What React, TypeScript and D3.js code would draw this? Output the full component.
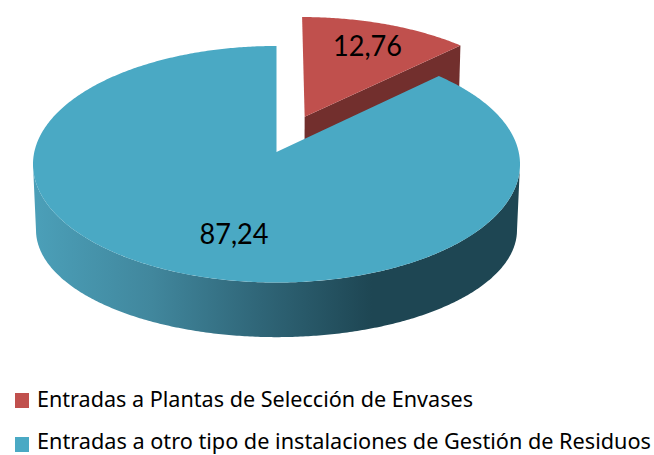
import React from "react";
import * as D3 from "d3";

const categories = ["Entradas a Plantas de Selección de Envases", "Entradas a otro tipo de instalaciones de Gestión de Residuos"];
const values = [12.76, 87.24];
const valueLabels = ["12,76", "87,24"];
const topColors = ["#c0504d", "#4aa9c4"];

const W = 654, H = 455;
// perspective projection of the unit disc: top face and lower rim
const x0 = 276.5, K = 0.1036;
function projectTop(u: number, v: number): [number, number] {
  const w = 1 + K * v;
  return [x0 + (242.2 * u) / w, 152 - (117 * v) / w];
}
function projectBottom(u: number, v: number): [number, number] {
  const w = 1 + K * v;
  return [x0 + (239.2 * u) / w, 219 - (105.9 * v) / w];
}
const pieGen = D3.pie<number>().sort(null);
const arcs = pieGen(values);
const line = D3.line();

function rimPoints(p: typeof projectTop, a0: number, a1: number, du = 0, dv = 0) {
  const n = Math.max(2, Math.ceil(Math.abs(a1 - a0) / 0.01));
  return D3.range(n + 1).map((i) => {
    const a = a0 + ((a1 - a0) * i) / n;
    return p(du + Math.sin(a), dv + Math.cos(a));
  });
}

const redOff: [number, number] = [0.12, 0.31];
const redArc = arcs[0];
const blueArc = arcs[1];

const redTop = line([projectTop(redOff[0], redOff[1]), ...rimPoints(projectTop, redArc.startAngle, redArc.endAngle, ...redOff)])! + "Z";
const cornerU = redOff[0] + Math.sin(redArc.endAngle);
const cornerV = redOff[1] + Math.cos(redArc.endAngle);
const redWall = line([
  projectTop(redOff[0], redOff[1]),
  projectTop(cornerU, cornerV),
  projectBottom(cornerU, cornerV),
  projectBottom(redOff[0], redOff[1]),
])! + "Z";
const blueTop = line([projectTop(0, 0), ...rimPoints(projectTop, blueArc.startAngle, blueArc.endAngle)])! + "Z";
const wallA0 = (96 * Math.PI) / 180, wallA1 = (264 * Math.PI) / 180;
const blueWall = line([...rimPoints(projectTop, wallA0, wallA1), ...rimPoints(projectBottom, wallA1, wallA0)])! + "Z";

const gradStops: [number, string][] = [
  [0, "#4b9fb8"], [0.24, "#41879d"], [0.47, "#2f6577"], [0.7, "#1e4653"], [1, "#1e4653"],
];
const NUM_FONT = "Lato, sans-serif";
const LEG_FONT = "'Noto Sans', sans-serif";

export default function App() {
  return (
    <svg width={W} height={H} viewBox={`0 0 ${W} ${H}`} style={{ position: "absolute", left: 0, top: 0, background: "#fff" }}>
      <defs>
        <linearGradient id="wall" gradientUnits="userSpaceOnUse" x1={36} x2={516} y1={0} y2={0}>
          {gradStops.map(([o, c]) => <stop key={o} offset={o} stopColor={c} />)}
        </linearGradient>
      </defs>
      <path d={redWall} fill="#722f2d" />
      <path d={redTop} fill={topColors[0]} />
      <path d={blueWall} fill="url(#wall)" />
      <path d={blueTop} fill={topColors[1]} />
      <text x={367.5} y={56} textAnchor="middle" fontFamily={NUM_FONT} fontSize={28} textLength={69} lengthAdjust="spacingAndGlyphs" fill="#000">{valueLabels[0]}</text>
      <text x={234} y={244} textAnchor="middle" fontFamily={NUM_FONT} fontSize={28} textLength={69} lengthAdjust="spacingAndGlyphs" fill="#000">{valueLabels[1]}</text>
      <rect x={15} y={393} width={14} height={15} fill={topColors[0]} />
      <text x={37} y={407} fontFamily={LEG_FONT} fontSize={21} textLength={436} lengthAdjust="spacingAndGlyphs" fill="#000">{categories[0]}</text>
      <rect x={15} y={437} width={14} height={15} fill={topColors[1]} />
      <text x={37} y={448.5} fontFamily={LEG_FONT} fontSize={21} textLength={614} lengthAdjust="spacingAndGlyphs" fill="#000">{categories[1]}</text>
    </svg>
  );
}
